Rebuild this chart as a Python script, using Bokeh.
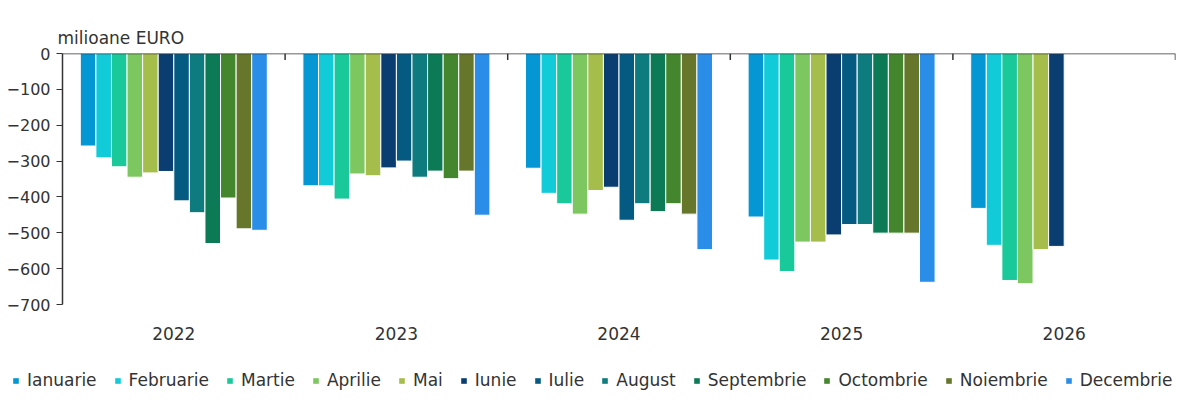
import math
from bokeh.plotting import figure
from bokeh.layouts import column
from bokeh.models import ColumnDataSource, FactorRange, Range1d, FixedTicker, Span, Legend, LegendItem, Title
from bokeh.transform import dodge
from bokeh.embed import file_html
from bokeh.resources import INLINE

nan = float("nan")

years = ["2022", "2023", "2024", "2025", "2026"]
months = ["Ianuarie", "Februarie", "Martie", "Aprilie", "Mai", "Iunie",
          "Iulie", "August", "Septembrie", "Octombrie", "Noiembrie", "Decembrie"]
colors = ["#0597d4", "#12cbd9", "#19c99a", "#7cc760", "#a5bd4a", "#0b3e70",
          "#045a80", "#0e7b7e", "#0c7a55", "#44862e", "#66762a", "#2a8de8"]

ianuarie = [-258, -369, -320, -456, -432]
februarie = [-291, -369, -390, -576, -535]
martie = [-316, -406, -419, -608, -633]
aprilie = [-345, -336, -448, -526, -642]
mai = [-333, -341, -382, -526, -547]
iunie = [-329, -319, -373, -506, -538]
iulie = [-411, -300, -465, -477, nan]
august = [-444, -345, -419, -477, nan]
septembrie = [-530, -328, -441, -501, nan]
octombrie = [-403, -349, -419, -501, nan]
noiembrie = [-489, -328, -448, -501, nan]
decembrie = [-493, -451, -547, -638, nan]

series = [ianuarie, februarie, martie, aprilie, mai, iunie,
          iulie, august, septembrie, octombrie, noiembrie, decembrie]

y_ticks = [0, -100, -200, -300, -400, -500, -600, -700]

FONT = "DejaVu Sans"
TXT = "#333333"

data = {"year": years}
for m, s in zip(months, series):
    data[m] = s
src = ColumnDataSource(data)

p = figure(x_range=FactorRange(*years), y_range=Range1d(-700, 0),
           width=1184, height=344, output_backend="svg", toolbar_location=None,
           min_border_left=62, min_border_right=9, min_border_top=53, min_border_bottom=40)
p.x_range.range_padding = 0
p.outline_line_color = None
p.xgrid.grid_line_color = None
p.ygrid.grid_line_color = None

bar_w = 0.07
for i, (m, c) in enumerate(zip(months, colors)):
    p.vbar(x=dodge("year", (i - 5.5) * bar_w, range=p.x_range), top=m, bottom=0,
           width=bar_w, source=src, fill_color=c, line_color="white", line_width=1)

p.add_layout(Span(location=0, dimension="width", line_color="#333333", line_width=1.5))
p.segment(x0=dodge("year", 0.5, range=p.x_range), y0=0,
          x1=dodge("year", 0.5, range=p.x_range), y1=-18,
          source=src, line_color="#333333", line_width=1.5)

p.yaxis.ticker = FixedTicker(ticks=y_ticks)
p.yaxis.axis_line_color = "#333333"
p.yaxis.axis_line_width = 1.5
p.yaxis.major_tick_line_color = "#333333"
p.yaxis.major_tick_out = 6
p.yaxis.major_tick_in = 0
p.yaxis.minor_tick_line_color = None
p.yaxis.major_label_standoff = 6
p.yaxis.major_label_text_font = FONT
p.yaxis.major_label_text_font_size = "16px"
p.yaxis.major_label_text_color = TXT

p.xaxis.axis_line_color = None
p.xaxis.major_tick_line_color = None
p.xaxis.minor_tick_line_color = None
p.xaxis.major_label_standoff = 16
p.xaxis.major_label_text_font = FONT
p.xaxis.major_label_text_font_size = "17px"
p.xaxis.major_label_text_color = TXT

p.add_layout(Title(text="milioane EURO", align="left", offset=-5, standoff=12,
                   text_font=FONT, text_font_size="17px", text_font_style="normal",
                   text_color=TXT), "above")

# legend strip
lg = figure(width=1184, height=48, output_backend="svg", toolbar_location=None,
            x_range=Range1d(0, 1), y_range=Range1d(0, 1),
            x_axis_location=None, y_axis_location=None,
            min_border_left=0, min_border_right=0, min_border_top=0, min_border_bottom=0)
if hasattr(lg, "frame_align"):
    lg.frame_align = False
    p.frame_align = False
lg.outline_line_color = None
lg.xgrid.grid_line_color = None
lg.ygrid.grid_line_color = None
offscreen = ColumnDataSource(dict(x=[5], top=[5]))
items = []
for m, c in zip(months, colors):
    r = lg.vbar(x="x", top="top", bottom=4, width=0.1, source=offscreen, fill_color=c, line_color=None)
    items.append(LegendItem(label=m, renderers=[r]))
legend = Legend(items=items, orientation="horizontal", location=(12, 2),
                border_line_color=None, background_fill_alpha=0,
                label_text_font=FONT, label_text_font_size="17px", label_text_color=TXT,
                glyph_width=7, glyph_height=7, label_standoff=8, spacing=17,
                padding=0, margin=0)
lg.add_layout(legend, "center")

layout = column(p, lg, spacing=0)
open("out.html", "w").write(file_html(layout, INLINE))
